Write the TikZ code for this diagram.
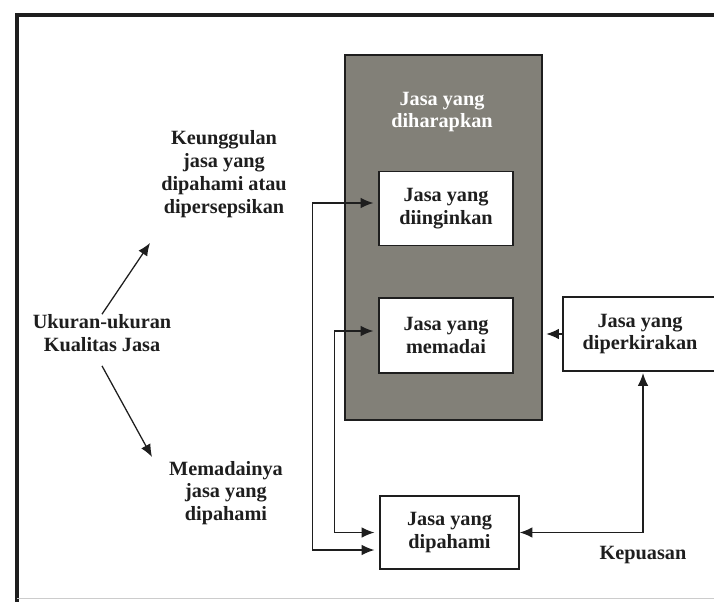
\documentclass[tikz,border=0pt]{standalone}
\usepackage{fontspec}
\setmainfont{Liberation Serif}
\usetikzlibrary{arrows.meta,calc}

\definecolor{scangray}{RGB}{130,128,120}
\definecolor{inkdark}{RGB}{30,30,30}

\begin{document}
\begin{tikzpicture}[x=0.025cm, y=-0.025cm,
    font=\fontsize{14.4}{16.2}\selectfont\bfseries,
    txt/.style={align=center, text=inkdark, inner sep=0pt},
    box/.style={draw=inkdark, fill=white, line width=1pt, align=center,
      text=inkdark, minimum width=3.35cm, minimum height=1.85cm},
    link/.style={draw=inkdark, line width=0.9pt},
    tip/.style={-{Latex[length=9pt,width=7.5pt]}},
    twotip/.style={{Latex[length=9pt,width=7.5pt]}-{Latex[length=9pt,width=7.5pt]}}]

  \useasboundingbox (0,0) rectangle (714,602);
  \clip (0,0) rectangle (714,602);
  \fill[white] (0,0) rectangle (714,602);

  % Frame
  \draw[inkdark, line width=2.6pt] (720,15) -- (17,15) -- (17,605);
  \draw[black!20, line width=0.6pt] (17,598) -- (720,598);

  % Expected service (shaded block)
  \node[draw=inkdark, fill=scangray, line width=1pt,
    minimum width=4.925cm, minimum height=9.125cm] (harap) at (443.5,237.5) {};
  \node[txt, text=white] (harapText) at (442,112) {Jasa yang\\diharapkan};

  \node[box] (ingin) at (446,208.5) {Jasa yang\\diinginkan};
  \node[box, minimum height=1.875cm] (madai) at (446,335.5) {Jasa yang\\memadai};

  % Other services
  \node[box, minimum width=3.85cm] (kira) at (640,334) {Jasa yang\\diperkirakan};
  \node[box, minimum width=3.475cm, minimum height=1.825cm] (paham) at (449.5,532.5) {Jasa yang\\dipahami};

  % Left side labels
  \node[txt] (ukuran) at (102,333) {Ukuran-ukuran\\Kualitas Jasa};
  \node[txt] (unggul) at (224,174) {Keunggulan\\jasa yang\\dipahami atau\\dipersepsikan};
  \node[txt] (padai) at (226,493) {Memadainya\\jasa yang\\dipahami};

  \coordinate (unggulTip) at (150,243);
  \coordinate (padaiTip) at (152,457);

  \draw[link, tip] (ukuran.north) -- (unggulTip);
  \draw[link, tip] ([yshift=-10pt]ukuran.south) -- (padaiTip);

  % Connectors
  \draw[link, twotip, shorten <=3.5pt, shorten >=3.5pt]
    ($(ingin.west)+(0,-5.5)$) -- ++(-66,0) |- ($(paham.west)+(0,17.5)$);
  \draw[link, twotip, shorten <=3.5pt, shorten >=3.5pt]
    ($(madai.west)+(0,-4.5)$) -- ++(-44,0) |- (paham.west);
  \draw[link, twotip, shorten >=1pt]
    (paham.east) -| node[pos=0.5, below=9pt, txt] (puas) {Kepuasan}
    ($(kira.south)+(3,0)$);
  \draw[link, tip, shorten >=2.5pt] (kira.west) -- (harap.east |- kira.west);

\end{tikzpicture}
\end{document}
